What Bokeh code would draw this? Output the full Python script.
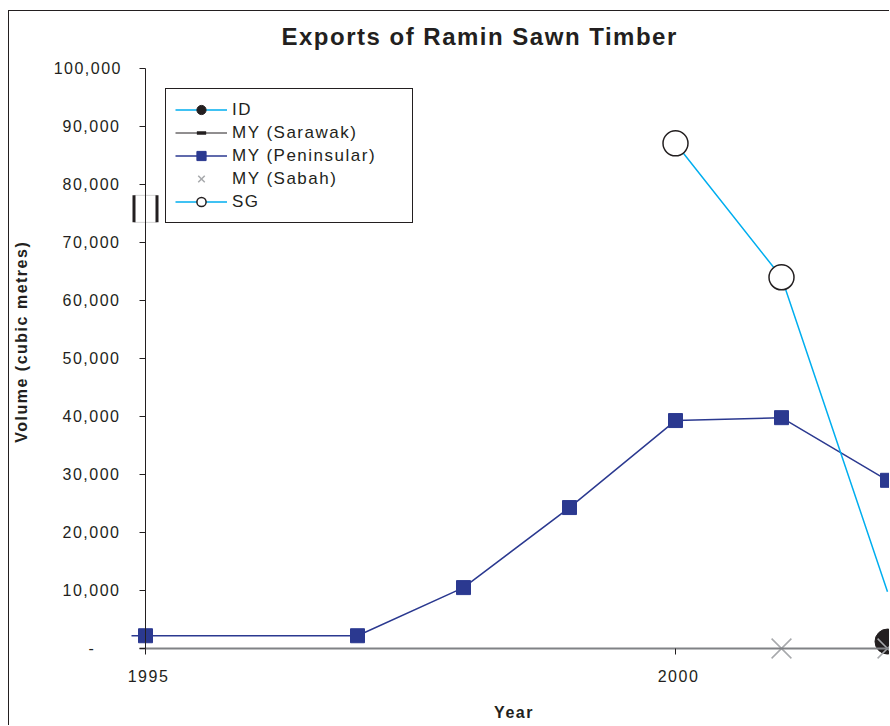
import numpy as np
from bokeh.plotting import figure
from bokeh.models import (ColumnDataSource, Range1d, FixedTicker, NumeralTickFormatter,
                          Legend, LegendItem, LinearAxis, CDSView, IndexFilter,
                          CustomLabelingPolicy)
from bokeh.transform import dodge
from bokeh.embed import file_html
from bokeh.resources import INLINE

# ---------------- data ----------------
title_text = "Exports of Ramin Sawn Timber"
x_label = "Year"
y_label = "Volume (cubic metres)"
x_tick_years = [1995, 2000]
y_ticks = [0, 10000, 20000, 30000, 40000, 50000, 60000, 70000, 80000, 90000, 100000]

id_years = [2002]
id_vol = [1200]

sarawak_years = [1995]
sarawak_vol = [75800]

pen_years = [1994, 1995, 1997, 1998, 1999, 2000, 2001, 2002]
pen_vol = [2200, 2200, 2200, 10500, 24300, 39300, 39800, 29000]

sabah_years = [2001, 2002]
sabah_vol = [0, 0]

sg_years = [2000, 2001, 2002]
sg_vol = [87100, 64000, 9800]
sg_marked = [0, 1]  # SG points drawn with a marker

# ---------------- style ----------------
BLACK = "#231F20"
CYAN = "#00AEEF"
NAVY = "#2B3990"
GRAY = "#A7A9AC"
AXGRAY = "#808285"
FONT = "Liberation Sans"

W, H = 881, 715
ML, MT, MB = 122, 43, 66
PX_PER_YEAR = 106.0
PX_PER_UNIT = 5.8 / 1000.0
X_START = 1995 - 14 / PX_PER_YEAR
X_END = X_START + (W - ML) / PX_PER_YEAR
Y_END = 100000 + 14 / PX_PER_UNIT
Y_START = -12 / PX_PER_UNIT

p = figure(width=W, height=H, output_backend="svg", toolbar_location=None,
           x_range=Range1d(X_START, X_END), y_range=Range1d(Y_START, Y_END),
           min_border_left=ML, min_border_right=0, min_border_top=MT,
           min_border_bottom=MB, background_fill_color="white",
           border_fill_color="white", outline_line_color=None)
p.styles = {"margin-left": "8px", "margin-top": "10px",
            "border-top": "1px solid #231F20", "border-left": "1px solid #231F20",
            "letter-spacing": "1.5px"}
p.xgrid.grid_line_color = None
p.ygrid.grid_line_color = None

# title
p.title.text = title_text
p.title.align = "left"
p.title.offset = 150
p.title.standoff = 10
p.title.vertical_align = "bottom"
p.title.text_font = FONT
p.title.text_font_style = "bold"
p.title.text_font_size = "24px"
p.title.text_color = BLACK

y_fmt = NumeralTickFormatter(format="0,0")
zero_label = {0: "-" + "\u00a0" * 4}
no_labels = "for (const i of indices) indices.unset(i)"

# y axis: line + ticks at 1995 (labels drawn by the axis below)
yax = p.yaxis[0]
yax.fixed_location = 1995
yax.bounds = (0, 100000)
yax.ticker = FixedTicker(ticks=y_ticks, minor_ticks=[])
yax.axis_line_color = BLACK
yax.major_tick_line_color = BLACK
yax.major_tick_out = 6
yax.major_tick_in = 0
yax.minor_tick_out = 0
yax.minor_tick_in = 0
yax.major_label_standoff = 0
yax.major_label_policy = CustomLabelingPolicy(code=no_labels)

# y axis: tick labels + title
ylab = LinearAxis(ticker=FixedTicker(ticks=y_ticks, minor_ticks=[]), formatter=y_fmt)
ylab.major_label_overrides = zero_label
ylab.axis_line_color = None
ylab.major_tick_line_color = None
ylab.major_tick_out = 0
ylab.major_tick_in = 0
ylab.minor_tick_line_color = None
ylab.minor_tick_out = 0
ylab.minor_tick_in = 0
ylab.major_label_standoff = 20
ylab.major_label_text_font = FONT
ylab.major_label_text_font_size = "16px"
ylab.major_label_text_color = BLACK
ylab.axis_label = y_label
ylab.axis_label_standoff = 21
ylab.axis_label_text_font = FONT
ylab.axis_label_text_font_style = "bold"
ylab.axis_label_text_font_size = "16px"
ylab.axis_label_text_color = BLACK
p.add_layout(ylab, "left")

# x axis: line + ticks at 0 (labels drawn by the axis below)
xax = p.xaxis[0]
xax.fixed_location = 0
xax.bounds = (1995 - 6 / PX_PER_YEAR, X_END)
xax.ticker = FixedTicker(ticks=x_tick_years, minor_ticks=[])
xax.axis_line_color = AXGRAY
xax.axis_line_width = 2
xax.major_tick_line_color = BLACK
xax.major_tick_out = 6
xax.major_tick_in = 0
xax.minor_tick_out = 0
xax.minor_tick_in = 0
xax.major_label_standoff = 0
xax.major_label_policy = CustomLabelingPolicy(code=no_labels)

# x axis: tick labels + title
xlab = LinearAxis(ticker=FixedTicker(ticks=x_tick_years, minor_ticks=[]))
xlab.axis_line_color = None
xlab.major_tick_line_color = None
xlab.major_tick_out = 0
xlab.major_tick_in = 0
xlab.minor_tick_line_color = None
xlab.minor_tick_out = 0
xlab.minor_tick_in = 0
xlab.major_label_standoff = 9
xlab.major_label_text_font = FONT
xlab.major_label_text_font_size = "16px"
xlab.major_label_text_color = BLACK
xlab.axis_label = x_label
xlab.axis_label_standoff = 19
xlab.axis_label_text_font = FONT
xlab.axis_label_text_font_style = "bold"
xlab.axis_label_text_font_size = "16px"
xlab.axis_label_text_color = BLACK
p.add_layout(xlab, "below")

# ---------------- glyphs ----------------
pen_src = ColumnDataSource(dict(x=pen_years, y=pen_vol))
sg_src = ColumnDataSource(dict(x=sg_years, y=sg_vol))
id_src = ColumnDataSource(dict(x=id_years, y=id_vol))
sw_src = ColumnDataSource(dict(x=sarawak_years, y=sarawak_vol))
sb_src = ColumnDataSource(dict(x=sabah_years, y=sabah_vol))

pen_line = p.line("x", "y", source=pen_src, line_color=NAVY, line_width=1.5)
sg_line = p.line("x", "y", source=sg_src, line_color=CYAN, line_width=1.5)
id_line = p.line("x", "y", source=id_src, line_color=CYAN, line_width=1.5)
sw_line = p.line("x", "y", source=sw_src, line_color=BLACK, line_width=1)

pen_pts = p.scatter("x", "y", source=pen_src, marker="square", size=14,
                    fill_color=NAVY, line_color=NAVY)
sg_pts = p.scatter("x", "y", source=sg_src, view=CDSView(filter=IndexFilter(sg_marked)),
                   marker="circle", size=25, fill_color="white",
                   line_color=BLACK, line_width=1.5)
id_pts = p.scatter("x", "y", source=id_src, marker="circle", size=25,
                   fill_color=BLACK, line_color=BLACK)

sw_box = p.rect("x", "y", source=sw_src, width=22, height=27, width_units="screen",
                height_units="screen", fill_color="white", line_color="#D5D5D5",
                line_width=1)
bar_dx = 11.5 / PX_PER_YEAR
sw_bar_l = p.scatter(x=dodge("x", -bar_dx), y="y", source=sw_src, marker="dash",
                     angle=np.pi / 2, size=27, line_color=BLACK, line_width=3)
sw_bar_r = p.scatter(x=dodge("x", bar_dx), y="y", source=sw_src, marker="dash",
                     angle=np.pi / 2, size=27, line_color=BLACK, line_width=3)

sb_pts = p.scatter("x", "y", source=sb_src, marker="x", size=28,
                   line_color=GRAY, line_width=1.5)

# ---------------- legend ----------------
legend = Legend(items=[
    LegendItem(label="ID", renderers=[id_line, id_pts]),
    LegendItem(label="MY (Sarawak)", renderers=[sw_line, sw_bar_l, sw_bar_r]),
    LegendItem(label="MY (Peninsular)", renderers=[pen_line, pen_pts]),
    LegendItem(label="MY (Sabah)", renderers=[sb_pts]),
    LegendItem(label="SG", renderers=[sg_line, sg_pts]),
], location=(34, 437))
legend.margin = 0
legend.padding = 9
legend.spacing = 0
legend.glyph_width = 52
legend.glyph_height = 23
legend.label_height = 23
legend.label_width = 171
legend.label_standoff = 5
legend.label_text_font = FONT
legend.label_text_font_size = "17px"
legend.label_text_color = BLACK
legend.border_line_color = BLACK
legend.border_line_width = 1
legend.border_line_alpha = 1
legend.background_fill_color = "white"
legend.background_fill_alpha = 1
p.add_layout(legend)

open("out.html", "w").write(file_html(p, INLINE))
